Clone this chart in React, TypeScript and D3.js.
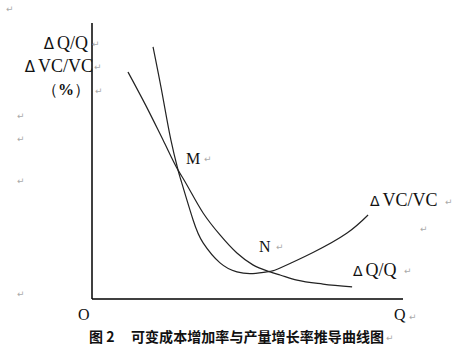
import React from 'react';
import * as d3 from 'd3';

// curve readings, x = output Q (0-100), y = rate % (0-100)
const vcX = [19.5, 22.4, 25.2, 27.5, 28.4, 32.3, 35.5, 40.9, 46.3, 51.4, 56.9, 60.1, 70.6, 81.5, 88.2];
const vcY = [89.4, 73.0, 56.4, 45.7, 42.2, 28.0, 19.9, 12.8, 9.6, 9.0, 9.8, 11.0, 16.5, 23.4, 29.8];
const qX = [11.5, 17.3, 22.7, 27.5, 29.4, 35.5, 40.9, 46.3, 51.4, 56.9, 60.1, 65.5, 73.8, 83.1];
const qY = [80.5, 68.4, 56.4, 45.7, 42.2, 30.5, 22.7, 16.3, 12.1, 9.6, 8.5, 6.7, 5.3, 4.3];

const caption = '可变成本增加率与产量增长率推导曲线图';
const figNo = '图 2';

// stray paragraph marks from the source document
const marks: [number, number][] = [
  [6, 12], [92, 47], [94, 70], [95, 94], [17, 119], [17, 142], [17, 184], [17, 297],
  [204, 162], [276, 250], [445, 205], [420, 232], [404, 274], [409, 320], [386, 341],
];

const serif = '"Liberation Serif", "Times New Roman", Times, serif';

const App = () => {
  const x = d3.scaleLinear().domain([0, 100]).range([92, 405]);
  const y = d3.scaleLinear().domain([0, 100]).range([299, 17]);

  const vcLine = d3.line<[number, number]>()
    .x(d => x(d[0]))
    .y(d => y(d[1]))
    .curve(d3.curveNatural);
  const qLine = d3.line<[number, number]>()
    .x(d => x(d[0]))
    .y(d => y(d[1]))
    .curve(d3.curveMonotoneX);

  const vc = vcX.map((v, i) => [v, vcY[i]] as [number, number]);
  const q = qX.map((v, i) => [v, qY[i]] as [number, number]);

  // the delta sign is set in another font, with a gap, like in the source
  const tri = (s: number) => (
    <tspan fontFamily="DejaVu Sans" fontSize={s}>Δ</tspan>
  );

  return (
    <svg width={455} height={364} style={{ position: 'absolute', left: 0, top: 0, background: '#fff' }}>
      <rect width={455} height={364} fill="#fff" />
      {/* axes */}
      <line x1={x(0)} y1={23} x2={x(0)} y2={y(0)} stroke="#000" strokeWidth={1.5} />
      <line x1={x(0)} y1={y(0)} x2={403} y2={y(0)} stroke="#000" strokeWidth={1.5} />

      <path d={vcLine(vc) ?? ''} fill="none" stroke="#222" strokeWidth={1.2} />
      <path d={qLine(q) ?? ''} fill="none" stroke="#222" strokeWidth={1.2} />

      <g fill="#111">
        <text fontFamily={serif} x={88} y={49} fontSize={18} textAnchor="end">{tri(15)}<tspan dx={3}>Q/Q</tspan></text>
        <text fontFamily={serif} x={93} y={72} fontSize={18} textAnchor="end">{tri(15)}<tspan dx={3}>VC/VC</tspan></text>
        <text fontFamily={serif} x={42} y={95} fontSize={16}>（<tspan fontWeight="bold">%</tspan>）</text>

        <text fontFamily={serif} x={186} y={164} fontSize={16}>M</text>
        <text fontFamily={serif} x={259} y={252} fontSize={16}>N</text>

        <text fontFamily={serif} x={370} y={206} fontSize={18}>{tri(14)}<tspan dx={3}>VC/VC</tspan></text>
        <text fontFamily={serif} x={353} y={276} fontSize={18}>{tri(14)}<tspan dx={3}>Q/Q</tspan></text>

        <text fontFamily={serif} x={78} y={320} fontSize={16}>O</text>
        <text fontFamily={serif} x={394} y={320} fontSize={16}>Q</text>
      </g>

      <g fontFamily="Noto Sans CJK SC" fontWeight="bold" fontSize={14} fill="#111">
        <text x={89} y={342}>{figNo}</text>
        <text x={131} y={342} textLength={253}>{caption}</text>
      </g>

      <g fontFamily="DejaVu Sans" fontSize={9} fill="#aaa">
        {marks.map((m, i) => (
          <text key={i} x={m[0]} y={m[1]}>↵</text>
        ))}
      </g>
    </svg>
  );
};

export default App;
